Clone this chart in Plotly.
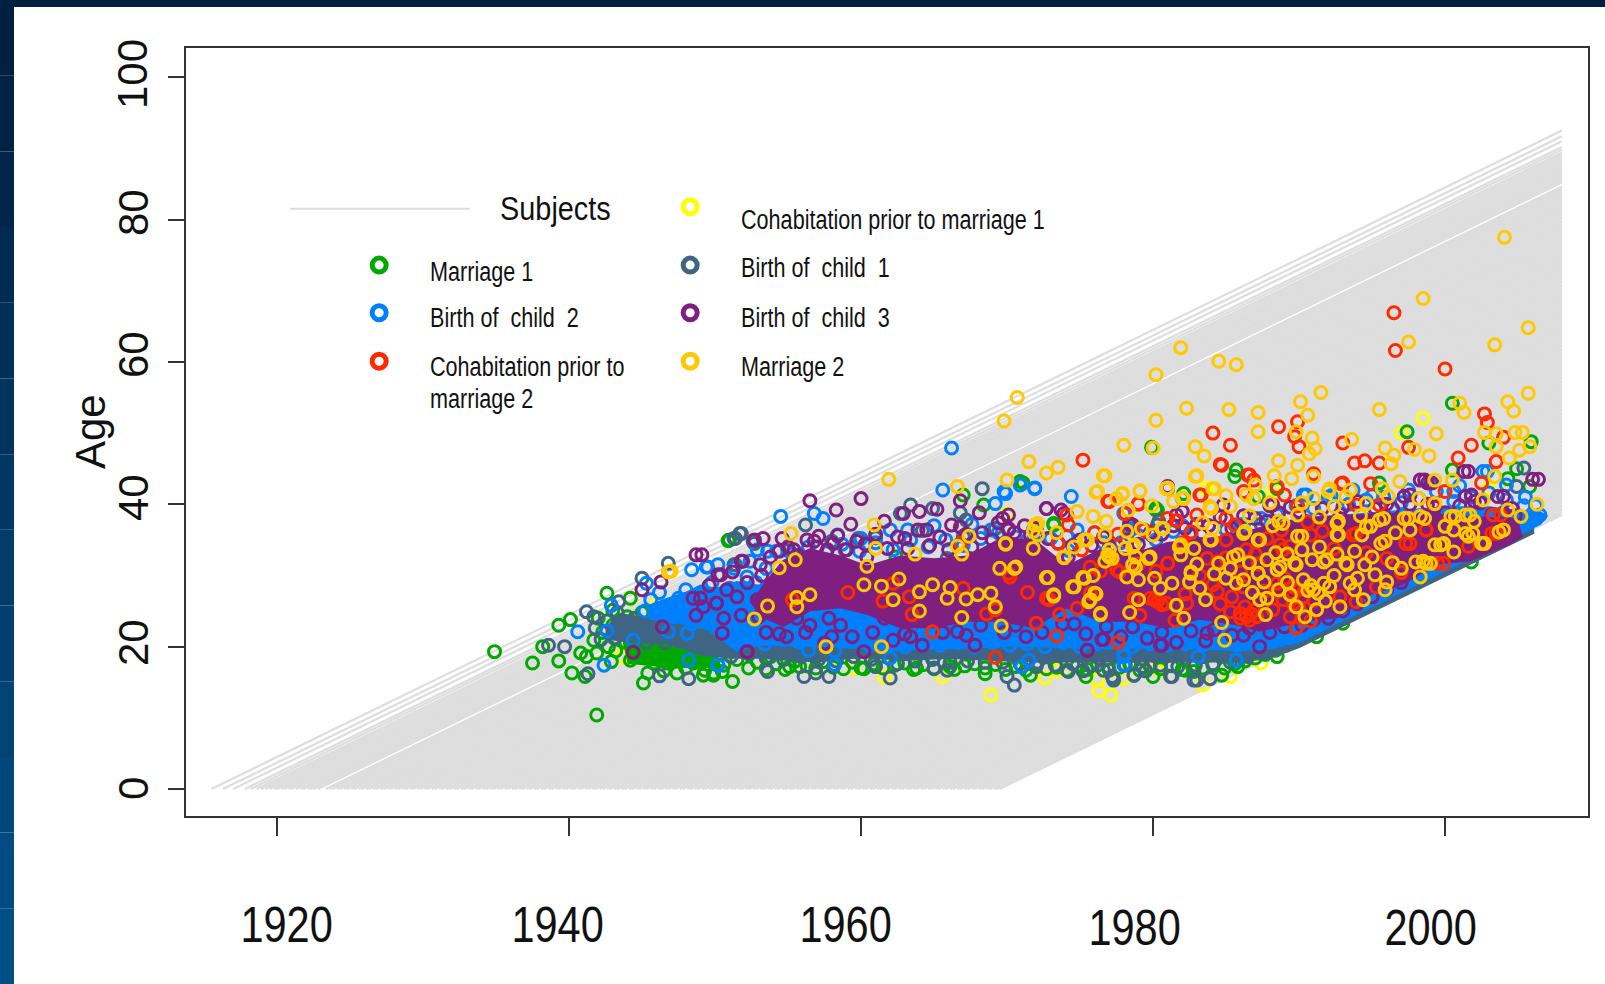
import plotly.graph_objects as go

# year each subject turned 0 (one grey life line per subject)
birth_years = [
    1915.5, 1916.3, 1917.0, 1917.8, 1918.2, 1918.6, 1918.9, 1919.2, 1919.5, 1919.8,
    1920.0, 1920.3, 1920.5, 1920.8, 1921.0, 1921.3, 1921.6, 1921.8, 1922.1, 1922.3,
    1922.5, 1922.8, 1923.35, 1923.6, 1923.8, 1924.1, 1924.3, 1924.6, 1924.8, 1925.1,
    1925.3, 1925.6, 1925.8, 1926.1, 1926.3, 1926.6, 1926.8, 1927.1, 1927.3, 1927.6,
    1927.8, 1928.1, 1928.3, 1928.6, 1928.8, 1929.1, 1929.3, 1929.6, 1929.8, 1930.1,
    1930.3, 1930.6, 1930.8, 1931.1, 1931.3, 1931.6, 1931.8, 1932.1, 1932.3, 1932.6,
    1932.8, 1933.1, 1933.3, 1933.6, 1933.8, 1934.1, 1934.3, 1934.6, 1934.8, 1935.1,
    1935.3, 1935.6, 1935.8, 1936.1, 1936.3, 1936.6, 1936.8, 1937.1, 1937.3, 1937.6,
    1937.8, 1938.1, 1938.3, 1938.6, 1938.8, 1939.1, 1939.3, 1939.6, 1939.8, 1940.1,
    1940.3, 1940.6, 1940.8, 1941.1, 1941.3, 1941.6, 1941.8, 1942.1, 1942.3, 1942.6,
    1942.8, 1943.1, 1943.3, 1943.6, 1943.8, 1944.1, 1944.3, 1944.6, 1944.8, 1945.1,
    1945.3, 1945.6, 1945.8, 1946.1, 1946.3, 1946.6, 1946.8, 1947.1, 1947.3, 1947.6,
    1947.8, 1948.1, 1948.3, 1948.6, 1948.8, 1949.1, 1949.3, 1949.6, 1949.8, 1950.1,
    1950.3, 1950.6, 1950.8, 1951.1, 1951.3, 1951.6, 1951.8, 1952.1, 1952.3, 1952.6,
    1952.8, 1953.1, 1953.3, 1953.6, 1953.8, 1954.1, 1954.3, 1954.6, 1954.8, 1955.1,
    1955.3, 1955.6, 1955.8, 1956.1, 1956.3, 1956.6, 1956.8, 1957.1, 1957.3, 1957.6,
    1957.8, 1958.1, 1958.3, 1958.6, 1958.8, 1959.1, 1959.3, 1959.6, 1959.8, 1960.1,
    1960.3, 1960.6, 1960.8, 1961.1, 1961.3, 1961.6, 1961.8, 1962.1, 1962.3, 1962.6,
    1962.8, 1963.1, 1963.3, 1963.6, 1963.8, 1964.1, 1964.3, 1964.6, 1964.8, 1965.1,
    1965.3, 1965.6, 1965.8, 1966.1, 1966.3, 1966.6, 1966.8, 1967.1, 1967.3, 1967.6,
    1967.8, 1968.1, 1968.3, 1968.6, 1968.8, 1969.1, 1969.3, 1969.5,
]
last_year = 2008

# Rings that can be told apart, (year, age) by event
yellow_pts = [
    (1968.9,13.2),(1976.3,13.8),(1977.1,13.2),(1961.6,15.7),(1972.6,15.6),(1965.6,15.8),(1976.2,15.3),
    (1959.5,17),(1978,15.6),(1973.5,16.7),(1977.9,15.5),(1980.2,17),(1983.4,14.6),(1985.3,15.8),(1987.4,17.7),
    (1998.5,52.1),(1997,50),(1983.6,42.2),(1988.2,42),(2003,42.2),(1983.7,42.3),(1944.2,26.8),(1943.6,18.6),
    (1946,26),(1970,38.7),(1980.5,16.7),
]
green_pts = [
    (1934.9,19.3),(1937.5,17.7),(1939.3,18),(1940.2,16.3),(1941.1,15.8),(1939.3,23),(1940.1,23.8),(1938.2,20),
    (1940.8,19.1),(1941.2,18.6),(1941.9,10.4),(1942.6,27.5),(1944.2,26.8),(1945.1,14.9),(1945.4,16.3),(1947.4,16.3),
    (1951.2,15.1),(1950.9,34.9),(1949.9,16.3),(1945.8,17.7),(1946.7,17.7),(1944.2,18.1),(1941.7,20.9),(1943,25.1),
    (1942.7,20),(1947.6,19.5),(1948.5,17.7),(1949.2,16),(1944.9,18.6),(1946,19.1),(1947.1,18.6),(1948.9,20),
    (1949.4,19),(1943.7,21.9),(1944.9,20.5),(1953.8,18.6),(1955.1,17.2),(1949.9,16),(1960,17),(1963.8,17),
    (1968.5,16.2),(1971.6,16),(1975.4,15.8),(1980,15.8),(1982.8,16.5),(1949.3,16.7),(1955.8,17.2),(1966.1,17.2),
    (1976.4,19),(1977.3,15.6),(1984.7,16),(1982.2,16.7),(1985.8,17.2),(1988.5,18.6),(1991.2,21.4),(2001.8,31.9),
    (1993,23.3),(2000.5,54.2),(1997.4,50.2),(1985.7,44.8),(1985.6,43.9),(1979.9,48),(1988.5,42.2),(1995.5,43),
    (2005.9,48.8),(2004.9,45),(2004.3,43.6),(2005.8,42.5),(2000.5,44.8),(1980.2,39.4),(1982.1,41.5),(1987.2,41.1),
    (2003,48.6),(1971.1,43),(1973.2,37.1),(1980.2,39.2),(1982,40.8),(1951,35),(1967,41.3),(1968.4,39.9),
    (1970.9,43.2),(1962.4,32.6),(1980.3,39.2),(1973.2,37.3),
    (1950.6,17.4),(1951.5,18.2),(1952.3,17),(1952.9,17.8),(1953.5,16.9),(1954.2,17.6),(1954.8,16.8),(1955.5,18),
    (1956.3,17.3),(1956.9,17),(1957.4,17.9),(1958.1,17.1),(1958.8,16.9),(1959.4,17.8),(1960.2,16.9),(1960.9,17.6),
    (1961.5,17),(1962.3,17.4),(1963,17.7),(1963.6,16.8),(1964.3,17.5),(1965,16.9),(1965.7,17.7),(1966.4,16.8),
    (1967.1,17.3),(1967.8,17.6),(1968.5,17),(1969.2,17.5),(1969.9,16.8),(1970.6,17.2),(1971.3,16.7),(1972,17.5),
    (1972.7,16.9),(1973.4,17.1),(1974.1,16.7),(1974.8,17.3),(1975.5,16.8),(1976.2,17.4),(1977,16.7),(1977.7,17.1),
    (1978.4,17.6),(1979.1,16.7),(1979.8,17.2),(1980.5,16.9),(1981.3,17.3),(1982,16.8),(1982.7,17.2),(1983.4,17),
    (1984.1,17.4),(1984.9,17),(1985.6,17.6),(1986.3,18),(1987,18.4),(1987.7,18.9),(1988.4,19.5),(1989.1,20.2),
    (1989.8,20.9),(1942.3,22),(1943.2,19.4),(1943.9,20.6),(1944.6,19.2),(1945.2,21.2),(1945.8,20),(1946.4,21.8),
    (1947,20.4),(1947.8,21.3),(1948.4,19),(1949,21.6),(1949.7,18.6),(1950.3,19.6),(1943,23),(1944,24.2),(1945,24.8),
    (1941.9,19.1),(1942.9,17.9),(1945.7,18.6),(1948,17),(1950.5,16.5),(1946.5,16.6),(1942,24),
]
slate_pts = [
    (1938.6,20.2),(1939.7,20),(1941.3,16.2),(1941.2,24.9),(1941.7,24.2),(1945,29.6),(1946.8,31.7),(1946.2,15.9),
    (1948.2,15.5),(1951.3,35.2),(1951.8,35.9),(1952.6,34.8),(1943.4,26.3),(1951.4,31.5),(1951.7,35.9),(1951.4,35.2),
    (1952.7,34.5),(1956.2,37.1),(1953.6,16.5),(1956.1,15.8),(1956.9,16.3),(1957.8,15.8),(1962,15.6),(1961,17.2),
    (1965,17),(1965.9,16.7),(1970,15.8),(1970.5,14.6),(1968.3,42.2),(1966.8,38.8),(1967.2,37.8),(1963.4,39.9),
    (1964.9,39.4),(1962.7,38.7),(1959.8,35.2),(1958.9,33.6),(1965.9,32.4),(1951.3,31.5),(1974.2,16.5),(1978.7,16),
    (1981.3,15.8),(1983,15.3),(1977.3,15.3),(1976.6,16.7),(1980.3,37.1),(1978.6,36.6),(1977.2,15.8),(1978.7,16),
    (1981.2,15.8),(1982.8,15.3),(1983.9,15.5),(1980.4,37.6),(1987.4,37.2),(2004.9,42.5),(2005.4,45.1),(1955,33.5),
    (1958,34.8),(1961,35.3),(1964.2,36.3),(1967,35.5),(1969.2,36.6),(1972,17.2),(1975.2,16.6),(1979.5,16.6),
    (1941.8,22.6),(1942.6,23.6),(1943.3,24.8),(1943.9,23),(1944.5,24),(1945.1,22.4),(1945.7,23.4),(1946.3,24.5),
    (1946.9,22.2),(1947.5,20.8),(1948.1,23),(1948.7,21.2),(1949.3,19.8),(1949.9,22),(1950.5,20.2),(1951.1,18.6),
    (1951.7,20.8),(1952.3,19),(1952.9,21),(1944.2,21.8),(1943.1,21.2),(1942.2,21),(1945.3,20.6),(1946.6,20.6),
    (1953.5,18.4),(1954.1,20),(1954.7,18.2),(1955.3,19.8),(1955.9,18.6),(1956.5,20.4),(1957.1,18.2),(1957.7,19.6),
    (1958.3,18),(1958.9,20),(1959.5,18.6),(1960.1,19.8),(1960.7,18.2),(1961.3,20.2),(1961.9,18.4),(1962.5,17.6),
    (1963.1,19.2),(1963.7,18),(1964.3,19.8),(1964.9,18.2),(1965.5,19.4),(1966.1,17.8),(1966.7,19.6),(1967.3,18),
    (1967.9,19.2),(1968.5,17.8),(1969.1,19.4),(1969.7,17.8),(1970.3,19.6),(1970.9,17.6),(1971.5,19.2),(1972.1,17.8),
    (1972.7,18.6),(1973.3,17.4),(1973.9,19),(1974.5,17.6),(1975.1,19),(1975.7,17.4),(1976.3,18.4),(1976.9,17.2),
    (1977.5,19.2),(1978.1,17.4),(1978.7,18.8),(1979.3,17.2),(1979.9,19),(1980.5,17.4),(1981.1,18.8),(1981.7,17.2),
    (1982.3,19),(1982.9,17.4),(1983.5,18.6),(1984.1,17.6),(1984.7,19),(1985.3,17.8),(1985.9,19.2),(1986.5,18.6),
    (1987.1,19.6),(1987.7,19.2),(1988.3,20.4),(1988.9,20.6),(1990,21.6),(1991,22.6),
]
blue_pts = [
    (1966.2,47.9),(1954.5,38.3),(1956.8,38.7),(1957.4,38),(1965.6,42),(1969.2,40.1),(1969.8,41.8),(1971.9,42.2),
    (1974.4,41.1),(1958.4,35.7),(1962,36.4),(1963.2,36.4),(1953.6,33.4),(1952.9,33.6),(1949.5,31.2),(1952.2,29.8),
    (1950.2,17.4),(1956.4,19.5),(1958.2,17.5),(1962,18.4),(1971,17.2),(1971.5,18.1),(1978,17.4),(1978,19),
    (1978.5,37.1),(1974.1,35.5),(1974.8,36.4),(1971.8,36.4),(1968.9,36.4),(1940.6,22.1),(1942.6,22.2),(1942.9,25.8),
    (1942.4,17.4),(1944.4,20.9),(1948.2,18.1),(1950.2,17.4),(1948.4,30.8),(1949.4,31.2),(1945.3,28.9),(1946.8,22.1),
    (1948.1,21.9),(2002.6,44.6),(1990.5,41.3),(1978.4,36.4),(1969.9,41.5),(1970.9,42.7),(1971.9,42.3),(1978,38.7),
    (1977.3,24),(1978,18.6),(1983.1,18.6),(1985.7,18.1),(2002.9,44.6),(2000.6,41.8),(1993.7,42),(1990.3,41.3),
    (2004.2,42.7),(1960,35.2),(1965,37),(1967.6,37.2),(1976,36),(1982,37),(1985,38),(1986,36.8),(1988.5,38.5),
    (1992,41),(1995,41.2),(1997.5,42),(1999,43),(2001,42.6),(2005.5,41),(2006.5,38.5),(2006.2,39.8),
    (1953.4,20.4),(1954.6,21),(1955.8,20.6),(1957,21),(1958.2,19.4),(1959.4,20.8),(1960.6,20.2),(1961.8,20.4),
    (1963,20),(1964.2,20.6),(1965.4,20.2),(1966.6,20.6),(1967.8,20),(1969,20.6),(1970.2,20.2),(1971.4,20.4),
    (1972.6,20),(1973.8,20.6),(1975,20),(1976.2,20.4),(1977.4,20.8),(1978.6,20),(1979.8,20.4),(1981,20.2),
    (1982.2,20.4),(1983.4,20.2),(1984.6,20.6),(1985.8,20.2),(1987,20.8),
    (1950.2,31.5),(1951.3,31),(1952.4,32),(1953.5,31),(1954.2,33.4),(1955.3,33),(1956.4,34),(1957.6,33.2),
    (1958.7,34.4),(1959.9,33.4),(1961,34.6),(1962.2,33.6),(1963.4,35),(1964.6,34),(1965.8,35),(1967,34.2),
    (1968.2,35.2),(1969.4,36),(1970.6,35.4),(1971.8,35),(1973,35.2),(1974.2,33.5),(1975.4,35),(1976.6,34.6),
    (1977.8,34.6),(1979,35.6),(1980.2,35),(1981.4,36.2),(1982.6,35.6),(1983.8,37),(1985,36.4),(1986.2,37.2),
    (1987.4,38),(1988.6,37.6),(1989.8,39.8),(1991,39.4),(1992.2,41.2),(1993.4,40),(1994.6,40.6),(1995.8,41),
    (1997,40.2),(1998.2,40.8),(1999.4,41.8),(2000.6,40.4),(2001.8,41),(2003,41.6),(2004.2,40.6),(2005.4,39.8),
    (1945.6,26.6),(1946.2,27.6),(1946.9,25.8),(1947.5,26.8),(1948,28),(1948.6,25.4),(1949.2,27.2),(1949.8,29),
    (1950.4,26.4),(1951,28.2),(1951.6,24.8),(1952.2,26.6),(1952.8,29),(1947.2,24.2),(1948.4,23.2),(1950.8,22.6),
    (1952,21.6),(1945.2,25),
]
purple_pts = [
    (1956.5,40.5),(1960,40.8),(1958.3,39.2),(1953.3,35.2),(1954.6,35.2),(1957.1,35.5),(1949.1,32.9),(1950.4,30.1),
    (1951.2,30.5),(1951.9,32),(1953.1,31.5),(1959.3,37.2),(1961.6,37.6),(1962.9,38.7),(1964,39),(1965.2,39.3),
    (1966.8,40.5),(1968.1,38.8),(1970.1,36.4),(1972.7,39.4),(1973.9,38.7),(1966.2,37.1),(1964.5,36.4),(1958.1,34.5),
    (1952.2,19.3),(1954.9,21.4),(1956.5,23),(1957.5,20.5),(1958.6,23),(1959.4,21.4),(1960.2,19.3),(1962.2,20.9),
    (1963.4,21.4),(1964.2,20.2),(1967.8,20.2),(1966.6,22.1),(1975.5,19.5),(1976.5,21),(1980.6,20.2),(1978.6,37.1),
    (1981.6,38.5),(1981,42.5),(1950.1,26.1),(1945,28),(1944.4,19.2),(1946.3,29.1),(1946.4,22.8),(1948.7,32.9),
    (1948.5,26.8),(1949,26.8),(1948.7,24.4),(1950.2,30.1),(1951.8,32),(1950.1,26.1),(1950.5,21.9),(1952.2,19.3),
    (1952.7,35),(2001.3,44.6),(2006,43.5),(1998.3,43.4),(1998.8,43),(1981,42.2),(1988,39.8),(1997.2,41.1),
    (2001.4,41.1),(2003.6,41.1),(1978.4,37.2),(1984.8,39.9),(1979.9,35.7),(1972.7,39.4),(1973.7,39.2),(1970.1,38.5),
    (1970.1,36.6),(1978.4,37.3),(1982,39),(1976.6,21),(1975.5,19.5),(1980.5,20.2),(1983.7,21.9),(1986.2,21.6),
    (1987.3,20),(2001.6,44.6),(1998.6,43.4),(1999.1,43),(2006.4,43.5),(1988.2,39.9),(1997.6,41.3),(2001.8,41.3),
    (2004,41.1),(1955.4,33.6),(1956.8,34.8),(1960.3,34.4),(1963,35.2),(1967.2,35.8),(1969.4,37.4),(1971.6,35.6),
    (1974.5,34.2),(1977,34),(1983.3,36),(1985.8,37),(1990,39),(1993,39.6),(1996,40),(1999.3,39.6),(2002.4,40.2),
    (2004.6,39.4),
    (1953.2,30),(1953.8,32.6),(1954.4,33.4),(1955,34),(1955.7,32.8),(1956.3,35),(1957,34),(1957.7,33.6),(1958.4,35.6),
    (1959,33.6),(1959.7,34.8),(1960.4,32.6),(1961,35.8),(1961.8,33.8),(1962.5,35.4),(1963.2,33.8),(1963.9,36.4),
    (1964.7,34.2),(1965.4,35.4),(1966,33.6),(1966.8,36.8),(1967.6,34),(1968.3,36),(1969,35),(1969.7,38),(1970.5,36),
    (1971.2,37),(1972,36.6),(1972.8,35.2),(1973.5,34.6),(1974.2,32.6),(1975,35),(1975.8,34.2),(1976.6,35.4),
    (1977.4,34.2),(1978.2,35),(1979,34.4),(1979.8,36),(1980.6,35.8),(1981.4,37),(1982.2,36.6),(1983,37.2),(1983.8,37),
    (1984.6,38.2),(1985.4,36.6),(1986.2,38.4),(1987,38),(1987.8,37.6),(1988.6,38.8),(1989.4,39.6),(1990.4,37.6),
    (1991.6,39.4),(1992.8,38.6),(1994,40.4),(1995.2,39.4),(1996.4,39.4),(1997.6,40),(1998.8,40),(2000,38.8),(2001,39.8),
    (2002,40.4),(2003.2,38.6),(2004,38.8),(2004.8,38.4),
    (1950.8,28),(1951.5,27),(1952.2,29),(1952.9,26.6),(1953,24.2),(1951.8,24.4),(1950.6,24),(1949.6,28.6),(1949.2,25.6),
    (1953.5,22),(1954.4,21.8),(1955.6,24),(1956.2,22),(1957.8,24),(1958,21.4),(1960.8,22),(1961.6,24),(1963,21.8),
    (1964.6,24),(1965.6,22),(1967.2,21.6),(1968.2,23),(1969.8,22),(1970.6,23),(1971.3,21.4),(1972.4,22),(1973.8,23.2),
    (1974.6,23.2),(1975.4,21.8),(1976.8,22.8),(1977.8,21.4),(1978.6,22.8),(1979.6,21.2),(1980.6,22),(1981.6,20.6),
    (1982.6,22.2),(1983.6,20.8),(1984.2,22.4),(1985.4,21.6),(1986.6,22.6),(1988,22),(1989,22.8),(1990.2,23),(1991,23.8),
    (1992,24),(1993,25),(1994,26),(1995,27),(1996,28),(1997,29),
]
red_pts = [
    (1996.5,66.9),(1996.6,61.6),(2000,59),(1984.1,50),(1985.3,48.3),(1984.6,45.6),(1988.6,50.9),(1989.9,51.6),
    (1989.7,49.5),(1990,48.1),(1993,48.6),(1997.5,48),(2002.7,52.7),(2002.9,51.5),(2001.8,48.3),(2004,49.4),
    (2003.5,46),(2000.9,46.5),(2002.5,43),(1993.8,45.8),(1994.5,46.1),(1995.5,45.8),(1986.5,44.1),(1986.9,43.4),
    (1986.2,41.8),(1988.5,42.5),(1989,41.3),(1991,44.3),(1992.9,42.9),(1994.9,42.9),(2000,41.8),(1977,40.4),
    (1979,40),(1978.1,38.7),(1983.2,41.3),(1981.6,37.7),(1983,38.5),(1982.6,36.1),(1989.9,39.8),(2003.3,38.5),
    (2003.2,35.9),(1999.2,40.1),(1995.5,39.9),(1993.9,39.9),(1997.3,34.5),(1998.7,36.4),(1993.9,35.9),(1990.8,35.7),
    (1981,31.7),(1977.5,30.8),(1984.4,31.9),(1998,31.9),(1999.5,31.7),(1975.2,46.2),(1984.7,45.5),(1986.6,44.1),
    (1976.9,40.4),(1979,40.1),(1983.3,41.3),(1974.2,37.1),(1974.1,38.5),(1973.5,34.5),(1975.1,33.6),(1973.9,32.5),
    (1975.7,31.2),(1977.7,30.5),(1981,31.7),(1983.7,32.4),(1985,38),(1985.6,37.1),(1973.6,24.5),(1972,23.3),
    (1973.4,21.5),(1977.6,20.6),(1978.7,26.8),(1979.1,24.4),(1981.5,23.7),(1982.3,26.1),(1984.4,27.7),(1984.1,28.7),
    (1979.8,26.8),(1980.3,26.3),(1980.9,26.1),(1980.1,26.6),(1980.6,25.9),(1985.96,24.7),(1986.4,24.2),(1986.9,25.1),
    (1986.3,25.6),(1986.6,23.7),(1987.1,24.2),(1985.3,24.9),(1986,24),(1986.7,24.6),(1975.7,27.5),(1972.9,26.6),
    (1970.2,29.8),(1959.1,27.6),(1964.9,22.1),(1969.2,18.5),(1972.7,26.8),(1970.1,30.3),(1969.2,25.2),(1963.3,27),
    (1963.5,24.5),(1962.2,28.9),(1955.3,26.6),(1966.8,34.5),(1988.9,33.6),(1989.4,34.1),(1988.7,34.3),(1989.4,24.2),
    (1989.8,22.6),(1992.8,27),(1993.9,26.3),(1995.3,28.4),(1998.7,36.4),(1999.9,31.7),(1997.6,34.5),(1995.8,34.8),
    (1993.7,35.7),(2001.6,34.1),(2003.5,35.9),(2003.8,38.5),(1997.4,38),(1988.5,28.9),(1989.6,28.4),(1988.9,26.6),
    (1990.3,27),(1993,43),(1989,29.6),(1988.6,27.8),(1990,28),(1991,26.5),(1985,32.5),(1986,30.5),(1987,33),
    (1976,36),(1977.6,35.8),(1979.4,36.4),(1981,38),(1982,34.6),(1985,35),(1986.4,33.6),(1987.8,35.2),(1988.8,36.4),
    (1990.6,37.5),(1991.6,36.2),(1992.4,33.8),(1994.6,33.2),(1996,32.4),(1997,30.4),(1986.2,28.4),(1987.2,31.6),
    (1988.2,25.2),(1990,25.4),(1990.8,23.6),(1989.6,26),(1987.6,27.8),(1985.4,27),(1984.6,26),(1983.2,30),(1982.2,27.4),
    (1980.2,30.6),(1979,31.6),(1976.4,30.6),(1974.8,25.4),(1971.4,27.6),(1968.6,24.6),(1967,28.2),(1961.5,26.4),
]
amber_pts = [
    (2004.07,77.5),(1998.5,68.9),(1997.5,62.8),(2003.4,62.4),(2005.7,64.8),(1981.9,62),(1980.2,58.2),(1984.5,60.1),
    (1985.7,59.6),(1991.5,55.7),(1990.1,54.4),(1982.3,53.5),(1985.2,53.3),(1987.2,52.9),(1990.6,52.5),(1995.5,53.3),
    (2005.7,55.6),(2004.3,54.4),(2004.7,53.1),(2001,54.2),(2001.3,52.9),(1980.2,51.8),(1987.2,50.2),(1978,48.3),
    (1980,47.9),(1982.9,48.1),(1983.5,46.8),(1989.8,50.2),(1990.9,49.3),(1991.1,47.8),(1990.7,47.1),(1993.6,49.1),
    (1995.9,47.9),(1996.5,46.9),(1996.3,45.7),(1997.9,47.7),(1998.9,46.8),(1999.4,49.9),(2002.7,50.1),(2003.5,49.9),
    (2004.8,50.1),(2005.3,50.1),(2003.5,48.1),(2005.8,48.1),(2005.1,47.6),(2004.4,46.5),(1988.6,46.1),(1989.9,45.5),
    (1988.3,44),(1989.5,43.6),(1982.9,43.9),(1976.7,44),(1991,43.9),(1984.1,42.2),(1981,42.3),(1979.1,41.9),
    (1977.9,41.4),(1982,40.9),(1983.9,39.7),(1979.9,39.8),(1981.4,40.4),(1987,42.7),(1996.9,43.2),(1995.7,42.2),
    (1993.5,42),(1992.1,42.2),(1999.3,43.4),(2000.5,43.4),(2003.4,43.9),(2006.3,40),(2005.2,38.3),(2004.3,39.2),
    (2002.6,40.6),(1999.3,40.1),(1998.2,40.8),(1994.6,40.1),(1996.1,41.1),(1991,40.8),(1992.4,39.7),(1993.2,41.1),
    (1988.6,37.6),(1986.2,35.9),(1987.2,35),(1989.9,35.5),(1983.9,35),(1981.9,34.3),(1980.6,36.6),(1979.8,32.6),
    (1977,33.6),(1978.6,34),(1985.5,32.6),(1992.6,37.3),(1992.6,35.7),(1994.6,36.8),(1995.6,34.5),(1995.5,37.8),
    (1997.2,38),(1998.3,38.3),(2000.4,38.3),(2001.4,38.5),(2002.5,34.5),(2003.7,36.1),(2001.4,35.9),(1999.3,34.3),
    (1999.9,34.5),(1998.7,31.7),(1998,31.9),(1993.2,31.7),(1991.7,31.9),(1989.7,31.7),(1988.5,30.8),(1987.2,30.3),
    (1982.6,30.3),(1978.6,31.5),(1977,32.6),(1991,28),(1990.3,29.4),(1991.7,28.9),(1989.4,27.3),(1992.1,28.4),
    (1990.8,28.6),(1991.3,27.5),(1990.6,27.9),(1991.4,34),(1990.9,32.2),(1988.7,31.2),(1989.8,31.5),(1991.9,32.2),
    (1993.3,31.5),(1994.5,31.5),(1995.2,30.1),(1996,29.1),(1995.9,28),(1993.8,28),(1993.5,28.9),(1992.8,25.6),
    (1991.2,25.2),(1998.3,29.8),(1999,31.7),(1998.5,32),(1999.7,34.3),(2000.6,33.3),(2001.6,35.5),(2001.9,35.9),
    (2002.7,34.5),(2000,36.9),(2000.7,38.3),(2001.7,38.5),(1995.9,34.8),(1994.3,35.7),(1994.9,36.9),(1995.8,38),
    (1997.5,38),(1998.6,38),(1992.7,35.7),(1992.7,37.6),(1990.2,35.5),(1988.9,37.3),(1989.9,38.5),(2004,36.4),
    (1970,43.4),(1972.7,44.4),(1973.5,45.2),(1971.5,46),(1976.6,44),(1976.1,41.7),(1977.9,41.5),(1979.1,41.8),
    (1983,44),(1984.2,42.2),(1980.9,42.2),(1982.1,40.8),(1984,39.4),(1985.3,39.7),(1986.9,40.8),(1986.4,41.3),
    (1977.5,40.8),(1978.3,39.2),(1974.8,39),(1975.9,38.3),(1976.8,37.6),(1971.9,37.1),(1969.9,34.5),(1972.1,35.7),
    (1975.5,35),(1976.7,35.7),(1973.9,32.5),(1972.7,29.7),(1970.5,31),(1978.7,34.3),(1978.1,33.8),(1976.9,32.9),
    (1977.2,32.4),(1976.7,32),(1978.8,32.6),(1978.8,31.2),(1979.7,32.4),(1978.2,29.8),(1979,29.4),(1980.1,29.6),
    (1981.3,28.9),(1980.5,28.2),(1975.9,30),(1975.2,29.7),(1974.5,28.4),(1976,27.5),(1975.7,26.6),(1973.2,27.3),
    (1976.4,24.7),(1979,26.6),(1978.4,24.8),(1981.6,25.8),(1982.1,24),(1982.6,30.5),(1982.5,29.1),(1983.2,28.2),
    (1983.6,26.6),(1984.5,31.7),(1985.3,31),(1985.8,32.9),(1985,29.6),(1985.7,28.9),(1987.2,30.3),(1987.6,29.1),
    (1987.8,32.2),(1987.3,26.6),(1987.8,26.8),(1987.7,24.5),(1984.7,23.4),(1984.9,20.9),(1980,35.7),(1980.7,36.6),
    (1981.8,34),(1981.9,32.9),(1984,35),(1984.1,36.6),(1986.3,36.2),(1987.3,35),
    (1955.2,35.9),(1955.5,32.2),(1954.4,31.1),(1961,33.8),(1960.9,37.1),(1960.4,31.3),(1963.7,33),(1960.2,28.7),
    (1961.4,28.5),(1962.6,29.5),(1962.2,26.6),(1964,27.7),(1964.9,28.7),(1964,25),(1966.1,28.3),(1965.9,26.8),
    (1967.2,26.7),(1968,27.3),(1968.9,27.5),(1969.2,25.6),(1966.9,24.1),(1969.6,22.9),(1956.5,27.3),(1955.6,26.9),
    (1955.6,25.6),(1953.6,25.7),(1952.7,23.9),(1957.6,20),(1961.4,20),(1969.5,31),(1970.6,31.2),(1969.9,34.4),
    (1966.9,33),(1966.6,34.1),(1967.4,35.5),(1972.8,29.7),(1973.2,27.1),(1974.6,28.4),(1975.3,29.6),(1976.1,27.4),
    (1975.6,26.3),(1976.4,24.5),(1973.9,32.6),(1975.3,35),(1972.1,37.3),(1971.8,36.2),(1966.6,42.5),(1976.2,41.8),
    (1946.8,30.5),(1961.9,43.5),(1970.7,55),(1969.8,51.7),(1947,30.6),
    (1979.2,36.6),(1982.8,33.8),(1983,31.6),(1984.2,30.2),(1986.6,31.8),(1986.2,29.4),(1986.8,27.6),(1988.4,33.2),
    (1989.2,33),(1990.2,33.6),(1992.4,30),(1993.8,33.4),(1995,32.6),(1996.6,36),(1997,31),(1996.4,31.8),(1994,29.6),
    (1992.6,33),(1989.2,29),(1988.6,28),(1989.8,25.6),(1990.4,24.2),(1991.8,26.4),(1994.4,26.6),(1997.6,36.4),
    (2000.6,36.4),(2002,37.6),(1990.2,40.2),(1988,40.2),(1986.6,38.4),(1992,41.8),(1985,41.2),(1983.4,37.4),(1978.2,36.2),
    (1974.6,34),(1973.4,36),(1971.8,33.8),(1988.2,37),(1994.2,38.4),(1991.4,38.2),
]

# Where the rings overlap so much they merge into a solid mass, outlined by hand as (year, age)
green_mass = [(1943.7,20.5),(1946,20.5),(1950,19.5),(1950.3,17.2),(1947,17.2),(1944,17.8)]
slate_mass = [
    (1942.5,22.5),(1943.5,24.5),(1945.5,23.8),(1947.5,23.5),(1950,23),(1953,22.5),(1957,21.5),(1961,22),(1965,21.5),
    (1969,21),(1973,21.5),(1977,21.5),(1981,22),(1985,23),(1988,24),(1992,27),(1996,30),(2000,33),(2004,36),
    (2006,37.5),(2006,36),(2004,34),(2002,32),(2000,30),(1998,28),(1996,26),(1994,24),(1992,22),(1990,20),
    (1988,18.5),(1986,18),(1984,18),(1981,18),(1978,18),(1975,18),(1972,18),(1969,18.2),(1966,18.5),
    (1963,18.2),(1960,18.6),(1957,18),(1955,18.3),(1953,18.5),(1951,18.5),(1949,19),(1947,20.5),(1944,20.8),
    (1942.5,21.2),
]
blue_mass = [
    (1945.3,25.5),(1946.5,26.5),(1948,27.5),(1949,28.5),(1950,28),(1951.5,29),(1953,28.5),(1954.5,30),(1956,31),
    (1958,30.5),(1960,31),(1962,31.5),(1964,31),(1966,31.5),(1968,32),(1970,33),(1972,33),(1974,30.5),(1976,32),
    (1978,32),(1980,33),(1983,34),(1985,34.5),(1987,35.5),(1989,37),(1991,38),(1994,38.5),(1997,39),(2000,39.5),
    (2003,39.5),(2005,39),(2006.5,38.8),(2006.9,38.3),(2006.5,37.3),(2004,34.8),
    (2002,32.8),(2000,30.7),(1998,28.7),(1996,26.7),(1994,24.7),(1992,22.7),(1990,20.8),(1988,19.8),(1986,19.6),
    (1983,19.8),(1980,20),(1977,19.8),(1974,20),(1971,20.2),(1968,20),(1965,19.8),(1962,19.6),(1959,20),
    (1956,20.2),(1953,20.4),(1951.5,19.5),(1950.5,21),(1949.5,22.5),(1947.5,23.5),(1945.5,24),
]
purple_mass = [
    (1952.5,26),(1953.5,29),(1954.7,32),(1956.5,33.6),(1958.6,32.6),(1960.4,31.2),(1962.7,32.6),
    (1965,32.2),(1967.3,32.6),(1969.5,35),(1971.8,35),(1974.1,31.2),(1976.4,33.5),(1978.7,33),(1981,34.5),
    (1983.2,35),(1985.5,35.5),(1988,37),(1990.3,38),(1994.9,38.5),(1999.4,38.5),(2002.9,38),(2004.9,37.8),
    (2005.2,35.5),(2004.4,34.5),(2001.7,32.2),(1999.4,31.7),(1997.1,28.9),(1994.9,27.5),(1992.6,24.2),(1990.3,23.7),
    (1987.3,22.3),(1985.5,23.3),(1983.2,24),(1981,22.8),(1978.7,23.7),(1976.4,23.7),(1974.1,25.6),(1971.8,22.8),
    (1969.5,23.7),(1967.3,23.7),(1965,22.8),(1962.7,22.8),(1960.4,24.7),(1958.6,25.6),(1956.5,25.2),(1954.7,23),
    (1953,24.5),
]

legend_line_x = [1920.9, 1933.2]
legend_line_y = [81.5, 81.5]
legend_left_x = [1927.0, 1927.0, 1927.0]
legend_left_y = [73.6, 66.9, 60.1]
legend_right_x = [1948.3, 1948.3, 1948.3, 1948.3]
legend_right_y = [81.8, 73.6, 66.9, 60.1]

x_ticks = [1920, 1940, 1960, 1980, 2000]
y_ticks = [0, 20, 40, 60, 80, 100]

GREY = "#DDDDDD"
GREEN = "#00A800"
SLATE = "#3F6585"
BLUE = "#0080FF"
PURPLE = "#7F1F7F"
RED = "#FF2A00"
YELLOW = "#FFFF00"
AMBER = "#FFC800"
FONT = "Liberation Sans, Arial"

# plot box in pixels
L, R, T, B = 186, 1588, 48, 816


def px(X):
    return (X - L) / (R - L)


def py(Y):
    return (B - Y) / (B - T)


def rings(fig, pts, color):
    fig.add_trace(go.Scatter(x=[p[0] for p in pts], y=[p[1] for p in pts], mode="markers",
                             marker=dict(symbol="circle-open", size=12, color=color, line=dict(width=3, color=color)),
                             showlegend=False))


def mass(fig, pts, color):
    fig.add_trace(go.Scatter(x=[p[0] for p in pts], y=[p[1] for p in pts], mode="lines", fill="toself",
                             fillcolor=color, line=dict(color=color, width=3), showlegend=False))


fig = go.Figure()

# subject life lines
line_x, line_y = [], []
for b in birth_years:
    line_x += [b, last_year, None]
    line_y += [0, last_year - b, None]
fig.add_trace(go.Scatter(x=line_x, y=line_y, mode="lines", line=dict(color=GREY, width=2.2), showlegend=False))

rings(fig, yellow_pts, YELLOW)
mass(fig, green_mass, GREEN)
rings(fig, green_pts, GREEN)
mass(fig, slate_mass, SLATE)
rings(fig, slate_pts, SLATE)
mass(fig, blue_mass, BLUE)
rings(fig, blue_pts, BLUE)
mass(fig, purple_mass, PURPLE)
rings(fig, purple_pts, PURPLE)
rings(fig, red_pts, RED)
rings(fig, amber_pts, AMBER)

# hand made legend
fig.add_trace(go.Scatter(x=legend_line_x, y=legend_line_y, mode="lines", line=dict(color=GREY, width=2), showlegend=False))
for xs, ys, cols in [(legend_left_x, legend_left_y, [GREEN, BLUE, RED]),
                     (legend_right_x, legend_right_y, [YELLOW, SLATE, PURPLE, AMBER])]:
    fig.add_trace(go.Scatter(x=xs, y=ys, mode="markers", showlegend=False,
                             marker=dict(symbol="circle-open", size=14, color=cols, line=dict(width=5))))

notes = []


def note(text, X, Y, size, anchor="left", angle=0):
    notes.append(dict(text=text, x=px(X), y=py(Y), xref="paper", yref="paper", showarrow=False,
                      xanchor=anchor, yanchor="middle", textangle=angle,
                      font=dict(family=FONT, size=size, color="#111111")))


note("Subjects", 498, 209, 33)
note("Marriage 1", 428, 272, 27)
note("Birth of  child  2", 428, 318, 27)
note("Cohabitation prior to", 428, 367, 27)
note("marriage 2", 428, 399, 27)
note("Cohabitation prior to marriage 1", 739, 220, 27)
note("Birth of  child  1", 739, 268, 27)
note("Birth of  child  3", 739, 318, 27)
note("Marriage 2", 739, 367, 27)
note("Age", 90, 432, 42, "center", -90)

for lab, X, Y in [("1920", 286, 925), ("1940", 557, 925), ("1960", 845, 925), ("1980", 1134, 928), ("2000", 1430, 928)]:
    note(lab, X, Y, 50, "center")
for lab, Y in [("100", 74), ("80", 213), ("60", 355), ("40", 498), ("20", 643), ("0", 789)]:
    note(lab, 133, Y, 42, "center", -90)

# dark slide edge, darker towards the top
strip_colors = ["#002040", "#002345", "#00274B", "#002B51", "#002F57", "#00335D", "#003763",
                "#003B69", "#003F6F", "#004375", "#00477B", "#004B81", "#004E86"]
shapes = [dict(type="rect", xref="paper", yref="paper", x0=px(0), x1=px(1605), y0=py(0), y1=py(7),
               fillcolor="#002040", line_width=0)]
for i, c in enumerate(strip_colors):
    shapes.append(dict(type="rect", xref="paper", yref="paper", x0=px(0), x1=px(14),
                       y0=py(984 * i / len(strip_colors)), y1=py(984 * (i + 1) / len(strip_colors)),
                       fillcolor=c, line_width=0))

fig.update_layout(
    width=1605, height=984, autosize=False,
    margin=dict(l=L, r=1605 - R, t=T, b=984 - B, pad=0),
    paper_bgcolor="white", plot_bgcolor="white",
    showlegend=False, annotations=notes, shapes=shapes,
)
fig.update_xaxes(range=[1913.77, 2009.79], tickvals=x_ticks, showticklabels=False, ticks="outside", ticklen=18,
                 tickwidth=2, tickcolor="#333333", showgrid=False, zeroline=False, showline=True, linecolor="#333333",
                 linewidth=2, mirror=True)
fig.update_yaxes(range=[-3.79, 104.1], tickvals=y_ticks, showticklabels=False, ticks="outside", ticklen=16,
                 tickwidth=2, tickcolor="#333333", showgrid=False, zeroline=False, showline=True, linecolor="#333333",
                 linewidth=2, mirror=True)

# the slide text is a squeezed Arial, no narrow face is installed so squeeze the real text elements
squeeze = """
document.body.style.margin='0';document.body.style.overflow='hidden';
var f={33:.875,27:.8,50:.83};
document.querySelectorAll('text.annotation-text').forEach(function(el){
  var s=parseInt(el.style.fontSize),k=f[s];if(!k)return;
  var w=el.getComputedTextLength();
  el.setAttribute('textLength',w*k);el.setAttribute('lengthAdjust','spacingAndGlyphs');
  if(s!=50){el.setAttribute('x',parseFloat(el.getAttribute('x'))-w*(1-k)/2);}
});
"""
fig.write_html("out.html", post_script=squeeze, config={"displayModeBar": False})
